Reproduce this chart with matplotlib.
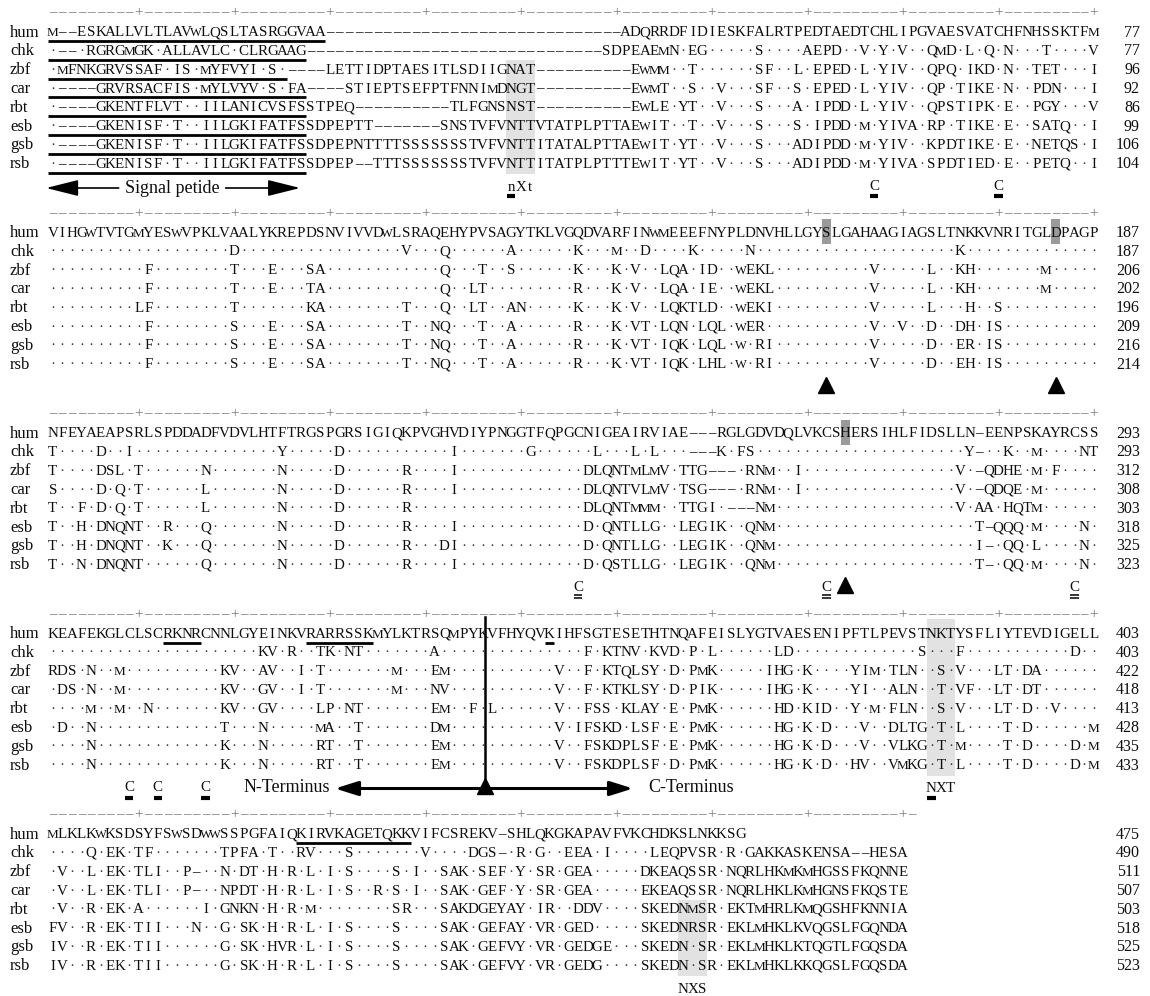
import matplotlib
matplotlib.use("Agg")
import matplotlib.pyplot as plt
from matplotlib.patches import Rectangle

species = ["hum", "chk", "zbf", "car", "rbt", "esb", "gsb", "rsb"]

# aligned rows, written 10 columns per chunk; "." = same residue as hum, "-" = gap
block1 = [
    "M--ESKALLV" "LTLAVWLQSL" "TASRGGVAA-" "----------" "----------" "----------" "ADQRRDFIDI" "ESKFALRTPE" "DTAEDTCHLI" "PGVAESVATC" "HFNHSSKTFM",
    ".--.RGRGMG" "K.ALLAVLC." "CLRGAAG---" "----------" "----------" "--------SD" "PEAEMN.EG." "....S....A" "EPD..V.Y.V" "..QMD.L.Q." "N...T....V",
    ".MFNKGRVSS" "AF.IS.MYFV" "YI.S.----L" "ETTIDPTAES" "ITLSDIIGNA" "T---------" "-EWMM..T.." "....SF..L." "EPED.L.YIV" "..QPQ.IKD." "N..TET...I",
    ".----GRVRS" "ACFIS.MYLV" "YV.S.FA---" "-STIEPTSEF" "PTFNNIMDNG" "T---------" "-EWMT..S.." "V...SF..S." "EPED.L.YIV" "..QP.TIKE." "N..PDN...I",
    ".----GKENT" "FLVT..IILA" "NICVSFSSTP" "EQ--------" "--TLFGNSNS" "T---------" "-EWLE.YT.." "V...S...A." "IPDD.L.YIV" "..QPSTIPK." "E..PGY...V",
    ".----GKENI" "SF.T..IILG" "KIFATFSSDP" "EPTT------" "-SNSTVFVNT" "TVTATPLPTT" "AEWIT..T.." "V...S...S." "IPDD.M.YIV" "A.RP.TIKE." "E..SATQ..I",
    ".----GKENI" "SF.T..IILG" "KIFATFSSDP" "EPNTTTTSSS" "SSSSTVFVNT" "TITATALPTT" "AEWIT.YT.." "V...S...AD" "IPDD.M.YIV" "..KPDTIKE." "E..NETQS.I",
    ".----GKENI" "SF.T..IILG" "KIFATFSSDP" "EP--TTTSSS" "SSSSTVFVNT" "TITATPLPTT" "TEWIT.YT.." "V...S...AD" "IPDD.M.YIV" "A.SPDTIED." "E..PETQ..I",
]

block2 = [
    "VIHGWTVTGM" "YESWVPKLVA" "ALYKREPDSN" "VIVVDWLSRA" "QEHYPVSAGY" "TKLVGQDVAR" "FINWMEEEFN" "YPLDNVHLLG" "YSLGAHAAGI" "AGSLTNKKVN" "RITGLDPAGP",
    ".........." ".........D" ".........." ".......V.." ".Q......A." ".....K...M" "..D....K.." "...N......" ".........." ".....K...." "..........",
    ".........." "F........T" "...E...SA." ".........." ".Q...T..S." ".....K...K" ".V..LQA.ID" "..WEKL...." "......V..." "..L..KH..." "....M.....",
    ".........." "F........T" "...E...TA." ".........." ".Q..LT...." ".....R...K" ".V..LQA.IE" "..WEKL...." "......V..." "..L..KH..." "....M.....",
    ".........L" "F........T" ".......KA." ".......T.." ".Q..LT..AN" ".....K...K" ".V..LQKTLD" "..WEKI...." "......V..." "..L...H..S" "..........",
    ".........." "F........S" "...E...SA." ".......T.." "NQ...T..A." ".....R...K" ".VT.LQN.LQ" "L.WER....." "......V..V" "..D..DH.IS" "..........",
    ".........." "F........S" "...E...SA." ".......T.." "NQ...T..A." ".....R...K" ".VT.IQK.LQ" "L.W.RI...." "......V..." "..D..ER.IS" "..........",
    ".........." "F........S" "...E...SA." ".......T.." "NQ...T..A." ".....R...K" ".VT.IQK.LH" "L.W.RI...." "......V..." "..D..EH.IS" "..........",
]

block3 = [
    "NFEYAEAPSR" "LSPDDADFVD" "VLHTFTRGSP" "GRSIGIQKPV" "GHVDIYPNGG" "TFQPGCNIGE" "AIRVIAE---" "RGLGDVDQLV" "KCSHERSIHL" "FIDSLLN-EE" "NPSKAYRCSS",
    "T....D..I." ".........." "....Y....." "D........." "..I......." "G......L.." ".L.L...---" "K.FS......" ".........." "......Y-.." "K..M....NT",
    "T....DSL.T" "......N..." "....N....." "D......R.." "..I......." "......DLQN" "TMLMV.TTG-" "--.RNM..I." ".........." ".....V.-QD" "HE.M.F....",
    "S....D.Q.T" "......L..." "....N....." "D......R.." "..I......." "......DLQN" "TVLMV.TSG-" "--.RNM..I." ".........." ".....V.-QD" "QE.M......",
    "T..F.D.Q.T" "......L..." "....N....." "D......R.." ".........." "......DLQN" "TMMM..TTGI" ".---NM...." ".........." ".....V.AA." "HQTM......",
    "T..H.DNQNT" "..R...Q..." "....N....." "D......R.." "..I......." "......D.QN" "TLLG..LEGI" "K..QNM...." ".........." ".......T-Q" "QQ.M....N.",
    "T..H.DNQNT" "..K...Q..." "....N....." "D......R.." ".DI......." "......D.QN" "TLLG..LEGI" "K..QNM...." ".........." ".......I-." "QQ.L....N.",
    "T..N.DNQNT" "......Q..." "....N....." "D......R.." "..I......." "......D.QS" "TLLG..LEGI" "K..QNM...." ".........." ".......T-." "QQ.M....N.",
]

block4 = [
    "KEAFEKGLCL" "SCRKNRCNNL" "GYEINKVRAR" "RSSKMYLKTR" "SQMPYKVFHY" "QVKIHFSGTE" "SETHTNQAFE" "ISLYGTVAES" "ENIPFTLPEV" "STNKTYSFLI" "YTEVDIGELL",
    ".........." ".........." "..KV.R..TK" ".NT......." "A........." "......F.KT" "NV.KVD.P.L" "......LD.." ".........." ".S...F...." ".......D..",
    "RDS.N..M.." "........KV" "..AV..I.T." "......M..." "EM........" "...V..F.KT" "QLSY.D.PMK" ".....IHG.K" "....YIM.TL" "N..S.V...L" "T.DA......",
    ".DS.N..M.." "........KV" "..GV..I.T." "......M..." "NV........" "...V..F.KT" "KLSY.D.PIK" ".....IHG.K" "....YI..AL" "N..T.VF..L" "T.DT......",
    "....M..M.." "N.......KV" "..GV....LP" ".NT......." "EM..F.L..." "...V..FSS." "KLAY.E.PMK" "......HD.K" "ID..Y.M.FL" "N..S.V...L" "T.D..V....",
    ".D..N....." "........T." "..N.....MA" "..T......." "DM........" "...V.IFSKD" ".LSF.E.PMK" "......HG.K" ".D...V..DL" "TG.T.L...." "T.D......M",
    "....N....." "........K." "..N.....RT" "..T......." "EM........" "...V..FSKD" "PLSF.E.PMK" "......HG.K" ".D...V..VL" "KG.T.M...." "T.D....D.M",
    "....N....." "........K." "..N.....RT" "..T......." "EM........" "...V..FSKD" "PLSF.D.PMK" "......HG.K" ".D..HV..VM" "KG.T.L...." "T.D....D.M",
]

block5 = [
    "MLKLKWKSDS" "YFSWSDWWSS" "PGFAIQKIRV" "KAGETQKKVI" "FCSREKV-SH" "LQKGKAPAVF" "VKCHDKSLNK" "KSG",
    "....Q.EK.T" "F.......TP" "FA.T..RV.." ".S.......V" "....DGS-.R" ".G..EEA.I." "...LEQPVSR" ".R.GAKKASK" "ENSA--HESA",
    ".V..L.EK.T" "LI..P-..N." "DT.H.R.L.I" ".S....S.I." ".SAK.SEF.Y" ".SR.GEA..." "..DKEAQSSR" ".NQRLHKMKM" "HGSSFKQNNE",
    ".V..L.EK.T" "LI..P-..NP" "DT.H.R.L.I" ".S..R.S.I." ".SAK.GEF.Y" ".SR.GEA..." "..EKEAQSSR" ".NQRLHKLKM" "HGNSFKQSTE",
    ".V..R.EK.A" "......I.GN" "KN.H.R.M.." "......SR.." ".SAKDGEYAY" ".IR..DDV.." "..SKEDNMSR" ".EKTMHRLKM" "QGSHFKNNIA",
    "FV..R.EK.T" "II...N..G." "SK.H.R.L.I" ".S....S..." ".SAK.GEFAY" ".VR.GED..." "..SKEDNRSR" ".EKLMHKLKV" "QGSLFGQNDA",
    "IV..R.EK.T" "II......G." "SK.HVR.L.I" ".S....S..." ".SAK.GEFVY" ".VR.GEDGE." "..SKEDN.SR" ".EKLMHKLKT" "QGTLFGQSDA",
    "IV..R.EK.T" "II......G." "SK.H.R.L.I" ".S....S..." ".SAK.GEFVY" ".VR.GEDG.." "..SKEDN.SR" ".EKLMHKLKK" "QGSLFGQSDA",
]

blocks = [block1, block2, block3, block4, block5]
ncols = [110, 110, 110, 110, 90]
ruler_len = [110, 110, 110, 110, 91]

ends = [
    [77, 77, 96, 92, 86, 99, 106, 104],
    [187, 187, 206, 202, 196, 209, 216, 214],
    [293, 293, 312, 308, 303, 318, 325, 323],
    [403, 403, 422, 418, 413, 428, 435, 433],
    [475, 490, 511, 507, 503, 518, 525, 523],
]

# (block, column) of the shaded catalytic residues in the hum row
active_cols = [(1, 82), (1, 106), (2, 84)]
# N-glycosylation sites: block, first col, last col, first row, last row
glyco_boxes = [(0, 49, 51, 2, 7), (3, 93, 95, 0, 7), (4, 67, 69, 4, 7)]
glyco_labels = [(0, 49, "nXt", True), (3, 93, "NXT", True), (4, 67, "NXS", False)]
# underlined stretches: block, row, first col, last col
underlined = [(0, 0, 1, 29), (0, 1, 1, 27), (0, 2, 1, 25), (0, 3, 1, 27),
              (0, 4, 1, 27), (0, 5, 1, 27), (0, 6, 1, 27), (0, 7, 1, 27),
              (3, 0, 13, 16), (3, 0, 28, 34), (3, 0, 53, 53), (4, 0, 27, 38)]
# cysteines marked under the alignment: block, column, number of underlines
cys_marks = [(0, 87, 1), (0, 100, 1), (2, 56, 2), (2, 82, 2), (2, 108, 2),
             (3, 9, 1), (3, 12, 1), (3, 17, 1)]
triangle_cols = [(1, 82), (1, 106), (2, 84)]

# page geometry (pixels)
X0, CW = 48, 9.55          # left edge of column 1, column pitch
Y_RULE0, BLOCK_H = 13, 200.5
HUM_DY, ROW_H = 19.5, 18.8
ANN_DY = 173
W, H = 1150, 996


def col_of(px):
    return (px - X0) / CW + 0.5


FONT = "Liberation Serif"
SEQ_PT = 10.8
# the widest capitals get a slightly smaller size so neighbours do not collide
SIZE_OF = {"M": 9.5, "W": 9.0}
BASE_DY = 3.6              # baseline offset below a row's centre line
LAB = dict(family=FONT, fontsize=13)
INK = "#0d0d0d"

bad = [(b, i, len(r)) for b, rows in enumerate(blocks) for i, r in enumerate(rows)
       if len(r) > ncols[b] or (len(r) != ncols[b] and not (b == 4 and i == 0))]
assert not bad, bad

fig = plt.figure(figsize=(W / 100, H / 100), dpi=100)
ax = fig.add_axes([0, 0, 1, 1])
ax.set_xlim(col_of(0), col_of(W))
ax.set_ylim(H, 0)
ax.axis("off")


def rule_y(b):
    return Y_RULE0 + b * BLOCK_H


def row_y(b, i):
    return rule_y(b) + HUM_DY + i * ROW_H


def residue(c, y, ch, color=INK):
    ax.text(c, y + BASE_DY, ch, ha="center", va="baseline", color=color,
            family=FONT, fontsize=SIZE_OF.get(ch, SEQ_PT))


# shaded boxes go under the letters
for b, c0, c1, r0, r1 in glyco_boxes:
    top = row_y(b, r0) - (15 if r0 == 0 else 10)
    bottom = row_y(b, r1) + 10
    ax.add_patch(Rectangle((c0 - 0.5, top), c1 - c0 + 1, bottom - top,
                           facecolor="#e2e2e2", edgecolor="none", zorder=0))
for b, c in active_cols:
    y = row_y(b, 0)
    ax.add_patch(Rectangle((c - 0.5, y - 14), 1, 25,
                           facecolor="#9a9a9a", edgecolor="none", zorder=0))

for b, rows in enumerate(blocks):
    yr = rule_y(b)
    for c in range(1, ruler_len[b] + 1):
        ch = "+" if c % 10 == 0 else "–"
        ax.text(c, yr, ch, ha="center", va="center", color="#7a7a7a",
                family=FONT, fontsize=SEQ_PT)
    for i, (name, seq) in enumerate(zip(species, rows)):
        y = row_y(b, i)
        ax.text(col_of(10), y, name, ha="left", va="center", color=INK,
                family=FONT, fontsize=12)
        for c, ch in enumerate(seq, start=1):
            if ch == ".":
                residue(c, y, "·", "#333333")
            elif ch == "-":
                residue(c, y, "–")
            else:
                residue(c, y, ch)
        ax.text(col_of(1140), y, str(ends[b][i]), ha="right", va="center",
                color=INK, family=FONT, fontsize=11.5)

for b, i, c0, c1 in underlined:
    y = row_y(b, i) + 8.5
    ax.plot([c0 - 0.5, c1 + 0.5], [y, y], color="black", lw=2.0,
            solid_capstyle="butt")

for b, c, n in cys_marks:
    y = rule_y(b) + ANN_DY
    residue(c, y, "C")
    if n == 1:
        ax.plot([c - 0.45, c + 0.45], [y + 10, y + 10], color="black", lw=3,
                solid_capstyle="butt")
    else:
        for dy in (7.5, 10.5):
            ax.plot([c - 0.45, c + 0.45], [y + dy, y + dy], color="black",
                    lw=1.1, solid_capstyle="butt")

for b, c in triangle_cols:
    ax.plot(c, rule_y(b) + ANN_DY - 2, marker="^", ms=11, color="black",
            linestyle="none")

for b, c, text, mark in glyco_labels:
    y = rule_y(b) + ANN_DY + 1
    for k, ch in enumerate(text):
        residue(c + k, y, ch)
    if mark:
        ax.plot([c - 0.45, c + 0.45], [y + 9, y + 9], color="black", lw=3,
                solid_capstyle="butt")

# signal peptide span under block 1
ys = rule_y(0) + ANN_DY + 2
ax.text(13.5, ys, "Signal petide", ha="center", va="center", color=INK, **LAB)
head = dict(arrowstyle="-|>,head_length=1.0,head_width=0.25", color="black",
            lw=1.2, shrinkA=0, shrinkB=0, mutation_scale=20)
ax.annotate("", xy=(0.3, ys), xytext=(7.9, ys), arrowprops=head)
ax.annotate("", xy=(26.9, ys), xytext=(19.1, ys), arrowprops=head)

# N-/C-terminal split in block 4
yt = rule_y(3) + ANN_DY + 1
split = col_of(485)
ax.plot([split, split], [rule_y(3) + 2, yt], color="black", lw=1.8)
ax.plot(split, yt - 3, marker="^", ms=12, color="black", linestyle="none")
ax.annotate("", xy=(col_of(335), yt), xytext=(col_of(633), yt),
            arrowprops=dict(arrowstyle="<|-|>,head_length=0.7,head_width=0.22",
                            color="black", lw=2.2, shrinkA=0, shrinkB=0,
                            mutation_scale=20))
ax.text(col_of(330), yt - 1, "N-Terminus", ha="right", va="center", color=INK, **LAB)
ax.text(col_of(648), yt - 1, "C-Terminus", ha="left", va="center", color=INK, **LAB)

fig.savefig("out.png", dpi=100, facecolor="white")
